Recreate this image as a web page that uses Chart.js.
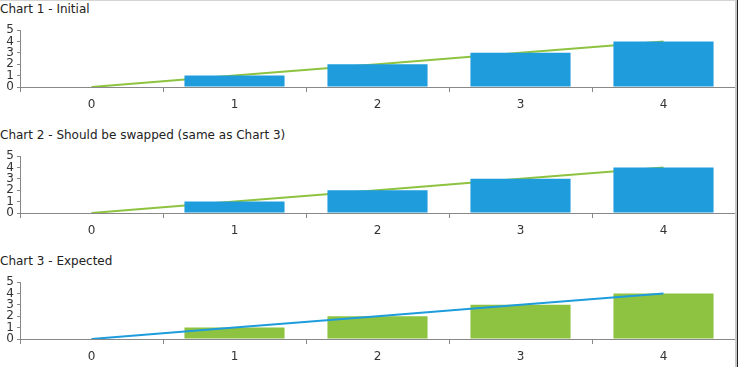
<!DOCTYPE html>
<html>
<head>
<meta charset="utf-8">
<script src="https://cdn.jsdelivr.net/npm/chart.js@4"></script>
<style>
  html, body { margin: 0; padding: 0; background: #fff; }
  #frame { position: relative; width: 738px; height: 367px; background: #222; overflow: hidden; }
  #inner { position: absolute; left: 0; top: 0; width: 735px; height: 366px; background: #fff;
           border-top: 1px solid #d4d4d4; border-right: 2px solid #c8c8c8; }
  .title { position: absolute; left: 0; font: 12px "DejaVu Sans", sans-serif; color: #222; line-height: 14px; white-space: nowrap; }
  canvas { position: absolute; left: 0; }
</style>
</head>
<body>
<div id="frame"><div id="inner">
  <div class="title" style="top:1px">Chart 1 - Initial</div>
  <div class="title" style="top:127px">Chart 2 - Should be swapped (same as Chart 3)</div>
  <div class="title" style="top:253px">Chart 3 - Expected</div>
  <canvas id="chart1" width="735" height="96" style="top:20px"></canvas>
  <canvas id="chart2" width="735" height="96" style="top:146px"></canvas>
  <canvas id="chart3" width="735" height="96" style="top:272px"></canvas>
</div></div>
<script>
// data
const categories = ['0', '1', '2', '3', '4'];
const barValues = [0, 1, 2, 3, 4];
const lineValues = [0, 1, 2, 3, 4];
const yMax = 5;

const blue = '#1e9cdc';
const green = '#8dc340';

function makeChart(id, barColor, lineColor, lineOnTop) {
    const ctx = document.getElementById(id).getContext('2d');
    return new Chart(ctx, {
        type: 'bar',
        data: {
            labels: categories,
            datasets: [
                { type: 'bar', data: barValues, backgroundColor: barColor,
                  barPercentage: 0.7, categoryPercentage: 1.0, order: lineOnTop ? 1 : 0 },
                { type: 'line', data: lineValues, borderColor: lineColor, borderWidth: 2,
                  pointRadius: 0, tension: 0, fill: false, order: lineOnTop ? 0 : 1 }
            ]
        },
        options: {
            responsive: false,
            animation: false,
            layout: { padding: { top: 4, right: 0, left: 0, bottom: 0 } },
            plugins: { legend: { display: false }, tooltip: { enabled: false } },
            scales: {
                x: {
                    offset: true,
                    grid: { display: true, drawOnChartArea: false, offset: true, tickLength: 5, color: '#888' },
                    border: { color: '#888' },
                    ticks: { padding: 6, color: '#333', font: { family: 'DejaVu Sans', size: 12 } },
                    afterFit: s => { s.height = 30; }
                },
                y: {
                    min: 0, max: yMax,
                    grid: { display: true, drawOnChartArea: false, tickLength: 3, color: '#888' },
                    border: { color: '#888' },
                    ticks: { stepSize: 1, autoSkip: false, padding: 3, color: '#333',
                             font: { family: 'DejaVu Sans', size: 12, lineHeight: 1 } },
                    afterFit: s => { s.width = 20; }
                }
            }
        }
    });
}

makeChart('chart1', blue, green, false);
makeChart('chart2', blue, green, false);
makeChart('chart3', green, blue, true);
</script>
</body>
</html>
